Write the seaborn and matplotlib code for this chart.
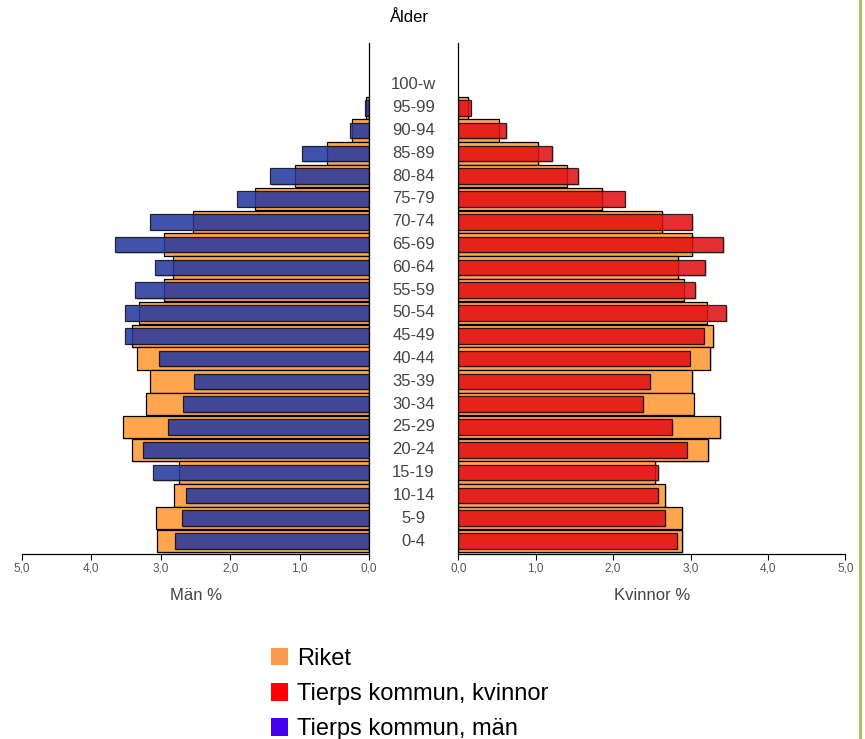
import numpy as np
import pandas as pd
import matplotlib.pyplot as plt
import matplotlib.transforms as mtransforms
import matplotlib.patheffects as pe
from matplotlib.patches import Patch
from matplotlib.lines import Line2D
import seaborn as sns

# age groups, top to bottom
ages = ["100-w", "95-99", "90-94", "85-89", "80-84", "75-79", "70-74", "65-69",
        "60-64", "55-59", "50-54", "45-49", "40-44", "35-39", "30-34", "25-29",
        "20-24", "15-19", "10-14", "5-9", "0-4"]

# share of population (%)
riket_man = [0.0, 0.05, 0.24, 0.61, 1.06, 1.64, 2.53, 2.96, 2.82, 2.96, 3.32,
             3.42, 3.34, 3.15, 3.22, 3.54, 3.41, 2.74, 2.81, 3.07, 3.05]
tierp_man = [0.0, 0.06, 0.27, 0.97, 1.42, 1.90, 3.16, 3.66, 3.08, 3.37, 3.51,
             3.51, 3.03, 2.52, 2.68, 2.89, 3.25, 3.11, 2.63, 2.70, 2.79]
riket_kvinnor = [0.0, 0.13, 0.52, 1.03, 1.40, 1.86, 2.63, 3.02, 2.84, 2.91, 3.21,
                 3.29, 3.25, 3.02, 3.04, 3.38, 3.23, 2.54, 2.67, 2.89, 2.89]
tierp_kvinnor = [0.0, 0.16, 0.62, 1.21, 1.55, 2.15, 3.02, 3.42, 3.19, 3.06, 3.46,
                 3.17, 2.99, 2.48, 2.39, 2.76, 2.95, 2.58, 2.58, 2.67, 2.83]

x_ticks = [0, 1, 2, 3, 4, 5]
legend_labels = ["Riket", "Tierps kommun, kvinnor", "Tierps kommun, män"]

ORANGE = "#ffa64f"
RED = "#e8050b"
BLUE = "#1d31a1"

sns.set_style("white")
plt.rcParams["font.family"] = ["Liberation Sans", "DejaVu Sans"]

fig = plt.figure(figsize=(8.65, 7.39), dpi=100)
ax_m = fig.add_axes([22 / 865, 185 / 739, 347 / 865, 511 / 739])
ax_k = fig.add_axes([458.3 / 865, 185 / 739, 387 / 865, 511 / 739])

shadow = [pe.SimplePatchShadow(offset=(1.2, -1.2), shadow_rgbFace="#888888", alpha=0.35),
          pe.Normal()]


def draw_side(ax, riket, tierp, colour):
    sns.barplot(x=riket, y=ages, order=ages, orient="h", color=ORANGE,
                saturation=1, width=0.98, edgecolor="black", linewidth=0.9,
                errorbar=None, ax=ax)
    sns.barplot(x=tierp, y=ages, order=ages, orient="h", color=colour,
                saturation=1, width=0.68, edgecolor="black", linewidth=0.9,
                alpha=0.8, errorbar=None, ax=ax)
    for p in ax.patches:
        if p.get_width() == 0:
            p.set_visible(False)
        p.set_path_effects(shadow)
    ax.set_ylim(20.57, -1.84)
    ax.set_yticks([])
    ax.set_ylabel("")
    ax.set_xticks(x_ticks)
    ax.set_xticklabels([f"{v:.1f}".replace(".", ",") for v in x_ticks],
                       fontsize=8.5, color="#555555")
    ax.tick_params(axis="x", direction="out", length=4, width=0.8,
                   color="black", pad=2, bottom=True)
    ax.spines["top"].set_visible(False)
    for s in ax.spines.values():
        s.set_linewidth(0.9)
        s.set_color("black")


draw_side(ax_m, riket_man, tierp_man, BLUE)
ax_m.set_xlim(5, 0)
ax_m.spines["left"].set_visible(False)
ax_m.set_xlabel("Män %", fontsize=12, color="#444444", labelpad=10)

draw_side(ax_k, riket_kvinnor, tierp_kvinnor, RED)
ax_k.set_xlim(0, 5)
ax_k.spines["right"].set_visible(False)
ax_k.set_xlabel("Kvinnor %", fontsize=12, color="#444444", labelpad=10)

# age labels in the gap between the two halves
trans = mtransforms.blended_transform_factory(fig.transFigure, ax_m.transData)
for i, a in enumerate(ages):
    fig.text(413.5 / 865, i, a, transform=trans, ha="center", va="center",
             fontsize=12, color="#444444")

fig.text(409 / 865, 1 - 17 / 739, "Ålder", ha="center", va="center",
         fontsize=12, color="black")

handles = [Patch(facecolor="#f89a4b", edgecolor="none"),
           Patch(facecolor="#ff0000", edgecolor="none"),
           Patch(facecolor="#4400ee", edgecolor="none")]
leg = fig.legend(handles, legend_labels, loc="upper left",
                 bbox_to_anchor=(266 / 865, 1 - 643 / 739), frameon=False,
                 fontsize=17, handlelength=0.75, handleheight=0.78,
                 handletextpad=0.35, labelspacing=0.55, borderaxespad=0,
                 borderpad=0.2)
for t in leg.get_texts():
    t.set_color("black")

# green page border on the right
fig.add_artist(Line2D([860 / 865, 860 / 865], [0, 1], transform=fig.transFigure,
                      color="#9cc45a", linewidth=2))

fig.savefig("out.png", dpi=100)
